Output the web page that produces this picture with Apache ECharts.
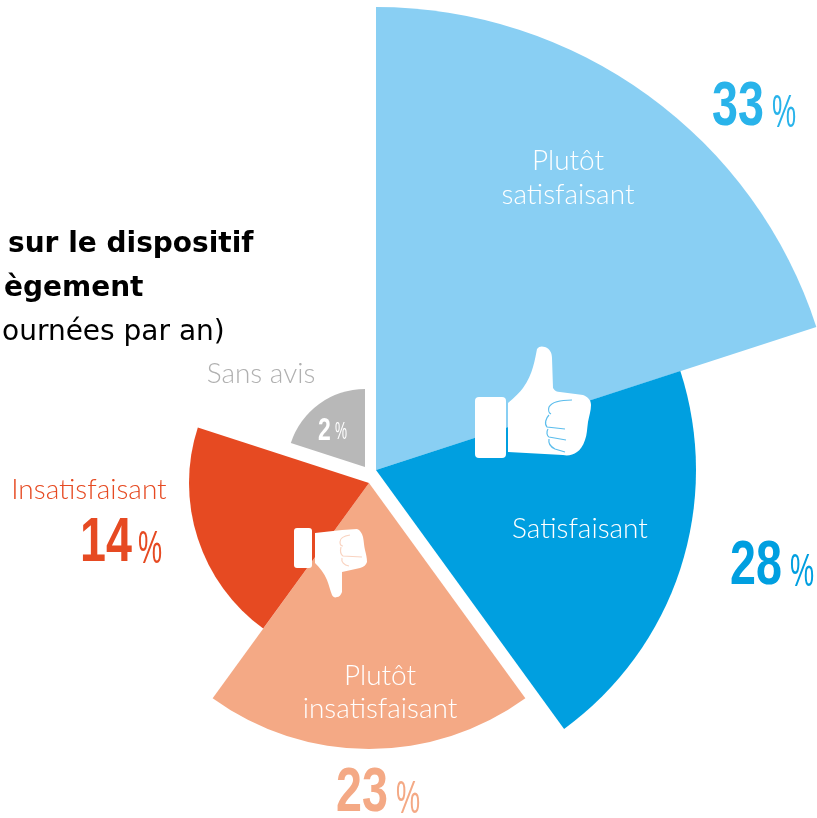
<!DOCTYPE html>
<html>
<head>
<meta charset="utf-8">
<style>
  html, body { margin: 0; padding: 0; background: #fff; overflow: hidden; }
  #chart { width: 817px; height: 818px; }
</style>
<script src="https://cdn.jsdelivr.net/npm/echarts@6/dist/echarts.min.js"></script>
</head>
<body>
<div id="chart"></div>
<script>
const categories = ['Plutôt satisfaisant', 'Satisfaisant', 'Plutôt insatisfaisant', 'Insatisfaisant', 'Sans avis'];
const values = [33, 28, 23, 14, 2];
const titleLines = ['sur le dispositif', 'ègement', 'ournées par an)'];

const petalRadius = [463, 320, 266, 180, 78];
const centers = [[376, 470], [376, 470], [369, 483], [369, 483], [365, 467]];
const colors = ['#89cff3', '#009fe0', '#f4a985', '#e64a22', '#b8b8b8'];
const numberColors = ['#29b3ea', '#009fe0', '#f4a985', '#e64a22', '#ffffff'];
const labelColors = ['#ffffff', '#ffffff', '#ffffff', '#e64a22', '#b0b0b0'];

// label layout : [x, y] of the centre of each line
const labelPos = [
  [[568, 161], [568, 195]],
  [[580, 529]],
  [[380, 676], [380, 709]],
  [[89, 490]],
  [[261, 374]]
];
const labelLines = [['Plutôt', 'satisfaisant'], ['Satisfaisant'], ['Plutôt', 'insatisfaisant'], ['Insatisfaisant'], ['Sans avis']];
// number left x, number mid y, percent left x, percent mid y, font sizes
const numberPos = [
  { x: 712, y: 108, px: 772, py: 114, size: 63, psize: 46 },
  { x: 730, y: 567, px: 790, py: 573, size: 63, psize: 46 },
  { x: 336, y: 794, px: 396, py: 800, size: 63, psize: 46 },
  { x: 80, y: 544, px: 138, py: 550, size: 63, psize: 46 },
  { x: 318, y: 431, px: 335, py: 433, size: 31, psize: 23 }
];

const series = values.map((v, i) => ({
  type: 'pie',
  name: categories[i],
  center: centers[i],
  radius: [0, petalRadius[i]],
  startAngle: 90 - 72 * i,
  clockwise: true,
  silent: true,
  animation: false,
  label: { show: false },
  labelLine: { show: false },
  emphasis: { disabled: true },
  // one fifth of the turn for the petal, the rest stays empty
  data: [
    { name: categories[i], value: v, itemStyle: { color: colors[i] } },
    { name: '', value: v * 4, itemStyle: { color: 'transparent' } }
  ]
}));

const texts = [];
titleLines.forEach((t, i) => {
  texts.push({
    type: 'text', z: 20,
    x: [8, 4, 2][i], y: 245 + 44 * i,
    style: {
      text: t, fill: '#000', align: 'left', verticalAlign: 'middle',
      font: (i < 2 ? 'bold ' : '') + '28px "DejaVu Sans"'
    }
  });
});
labelLines.forEach((lines, i) => {
  lines.forEach((t, j) => {
    texts.push({
      type: 'text', z: 20,
      x: labelPos[i][j][0], y: labelPos[i][j][1],
      style: { text: t, fill: labelColors[i], align: 'center', verticalAlign: 'middle', font: '300 28px Lato' }
    });
  });
});
values.forEach((v, i) => {
  const p = numberPos[i];
  texts.push({
    type: 'text', z: 20, x: p.x, y: p.y, scaleX: 0.74,
    style: { text: String(v), fill: numberColors[i], align: 'left', verticalAlign: 'middle', font: 'bold ' + p.size + 'px "Liberation Sans"' }
  });
  texts.push({
    type: 'text', z: 20, x: p.px, y: p.py, scaleX: 0.59,
    style: { text: '%', fill: numberColors[i], align: 'left', verticalAlign: 'middle', font: p.psize + 'px "Liberation Sans"' }
  });
});

// thumbs, just decoration
const thumbUp = 'M508 403 C515 397 520 392 523 388 C528 381 531 374 533 367 C535 360 536 354 537 349 C539 346 542 346 545 347 C550 349 552 353 552 358 L553 388 C555 391 557 392 560 392 L583 395 C588 397 591 400 591 405 C591 411 589 416 588 422 C587 429 587 435 585 440 C583 446 580 450 577 452 C573 455 568 456 563 455 L508 452 Z';
const thumbDown = 'M315 533 L342 530 L357 529 C360 530 362 533 363 537 C364 542 364 546 365 550 C366 554 367 558 367 562 C366 565 364 567 360 568 L342 572 L342 592 C341 595 339 597 337 597 C335 598 333 597 332 595 C330 590 329 585 327 580 C324 573 320 568 315 563 Z';
const fingersUp = [
  'M572 400 C562 400 552 402 549 407 C548 410 549 413 551 414',
  'M549 415 C546 418 544 424 547 427 L565 429',
  'M548 429 C546 432 547 436 549 437 L566 440',
  'M549 439 C548 444 551 447 555 449 L565 452'
];
const fingersDown = [
  'M350 535 C343 536 340 538 340 542 C340 545 341 546 343 546',
  'M341 547 C340 551 340 554 343 556 L362 557',
  'M342 558 C341 562 344 565 349 566'
];

const iconSeries = {
  type: 'custom',
  coordinateSystem: 'none',
  silent: true,
  animation: false,
  z: 10,
  data: [0],
  renderItem: function () {
    const children = [
      { type: 'rect', shape: { x: 475, y: 397, width: 31, height: 61, r: 4 }, style: { fill: '#fff' } },
      { type: 'path', shape: { pathData: thumbUp }, style: { fill: '#fff' } },
      { type: 'rect', shape: { x: 294, y: 528, width: 18, height: 40, r: 3 }, style: { fill: '#fff' } },
      { type: 'path', shape: { pathData: thumbDown }, style: { fill: '#fff' } }
    ];
    fingersUp.forEach(d => children.push({ type: 'path', shape: { pathData: d }, style: { fill: 'none', stroke: '#5cbdec', lineWidth: 1.2 } }));
    fingersDown.forEach(d => children.push({ type: 'path', shape: { pathData: d }, style: { fill: 'none', stroke: '#f9d3c0', lineWidth: 1.2 } }));
    return { type: 'group', children: children };
  }
};

const chart = echarts.init(document.getElementById('chart'));
chart.setOption({
  backgroundColor: '#fff',
  animation: false,
  series: series.concat([iconSeries]),
  graphic: { elements: texts }
});
</script>
</body>
</html>
